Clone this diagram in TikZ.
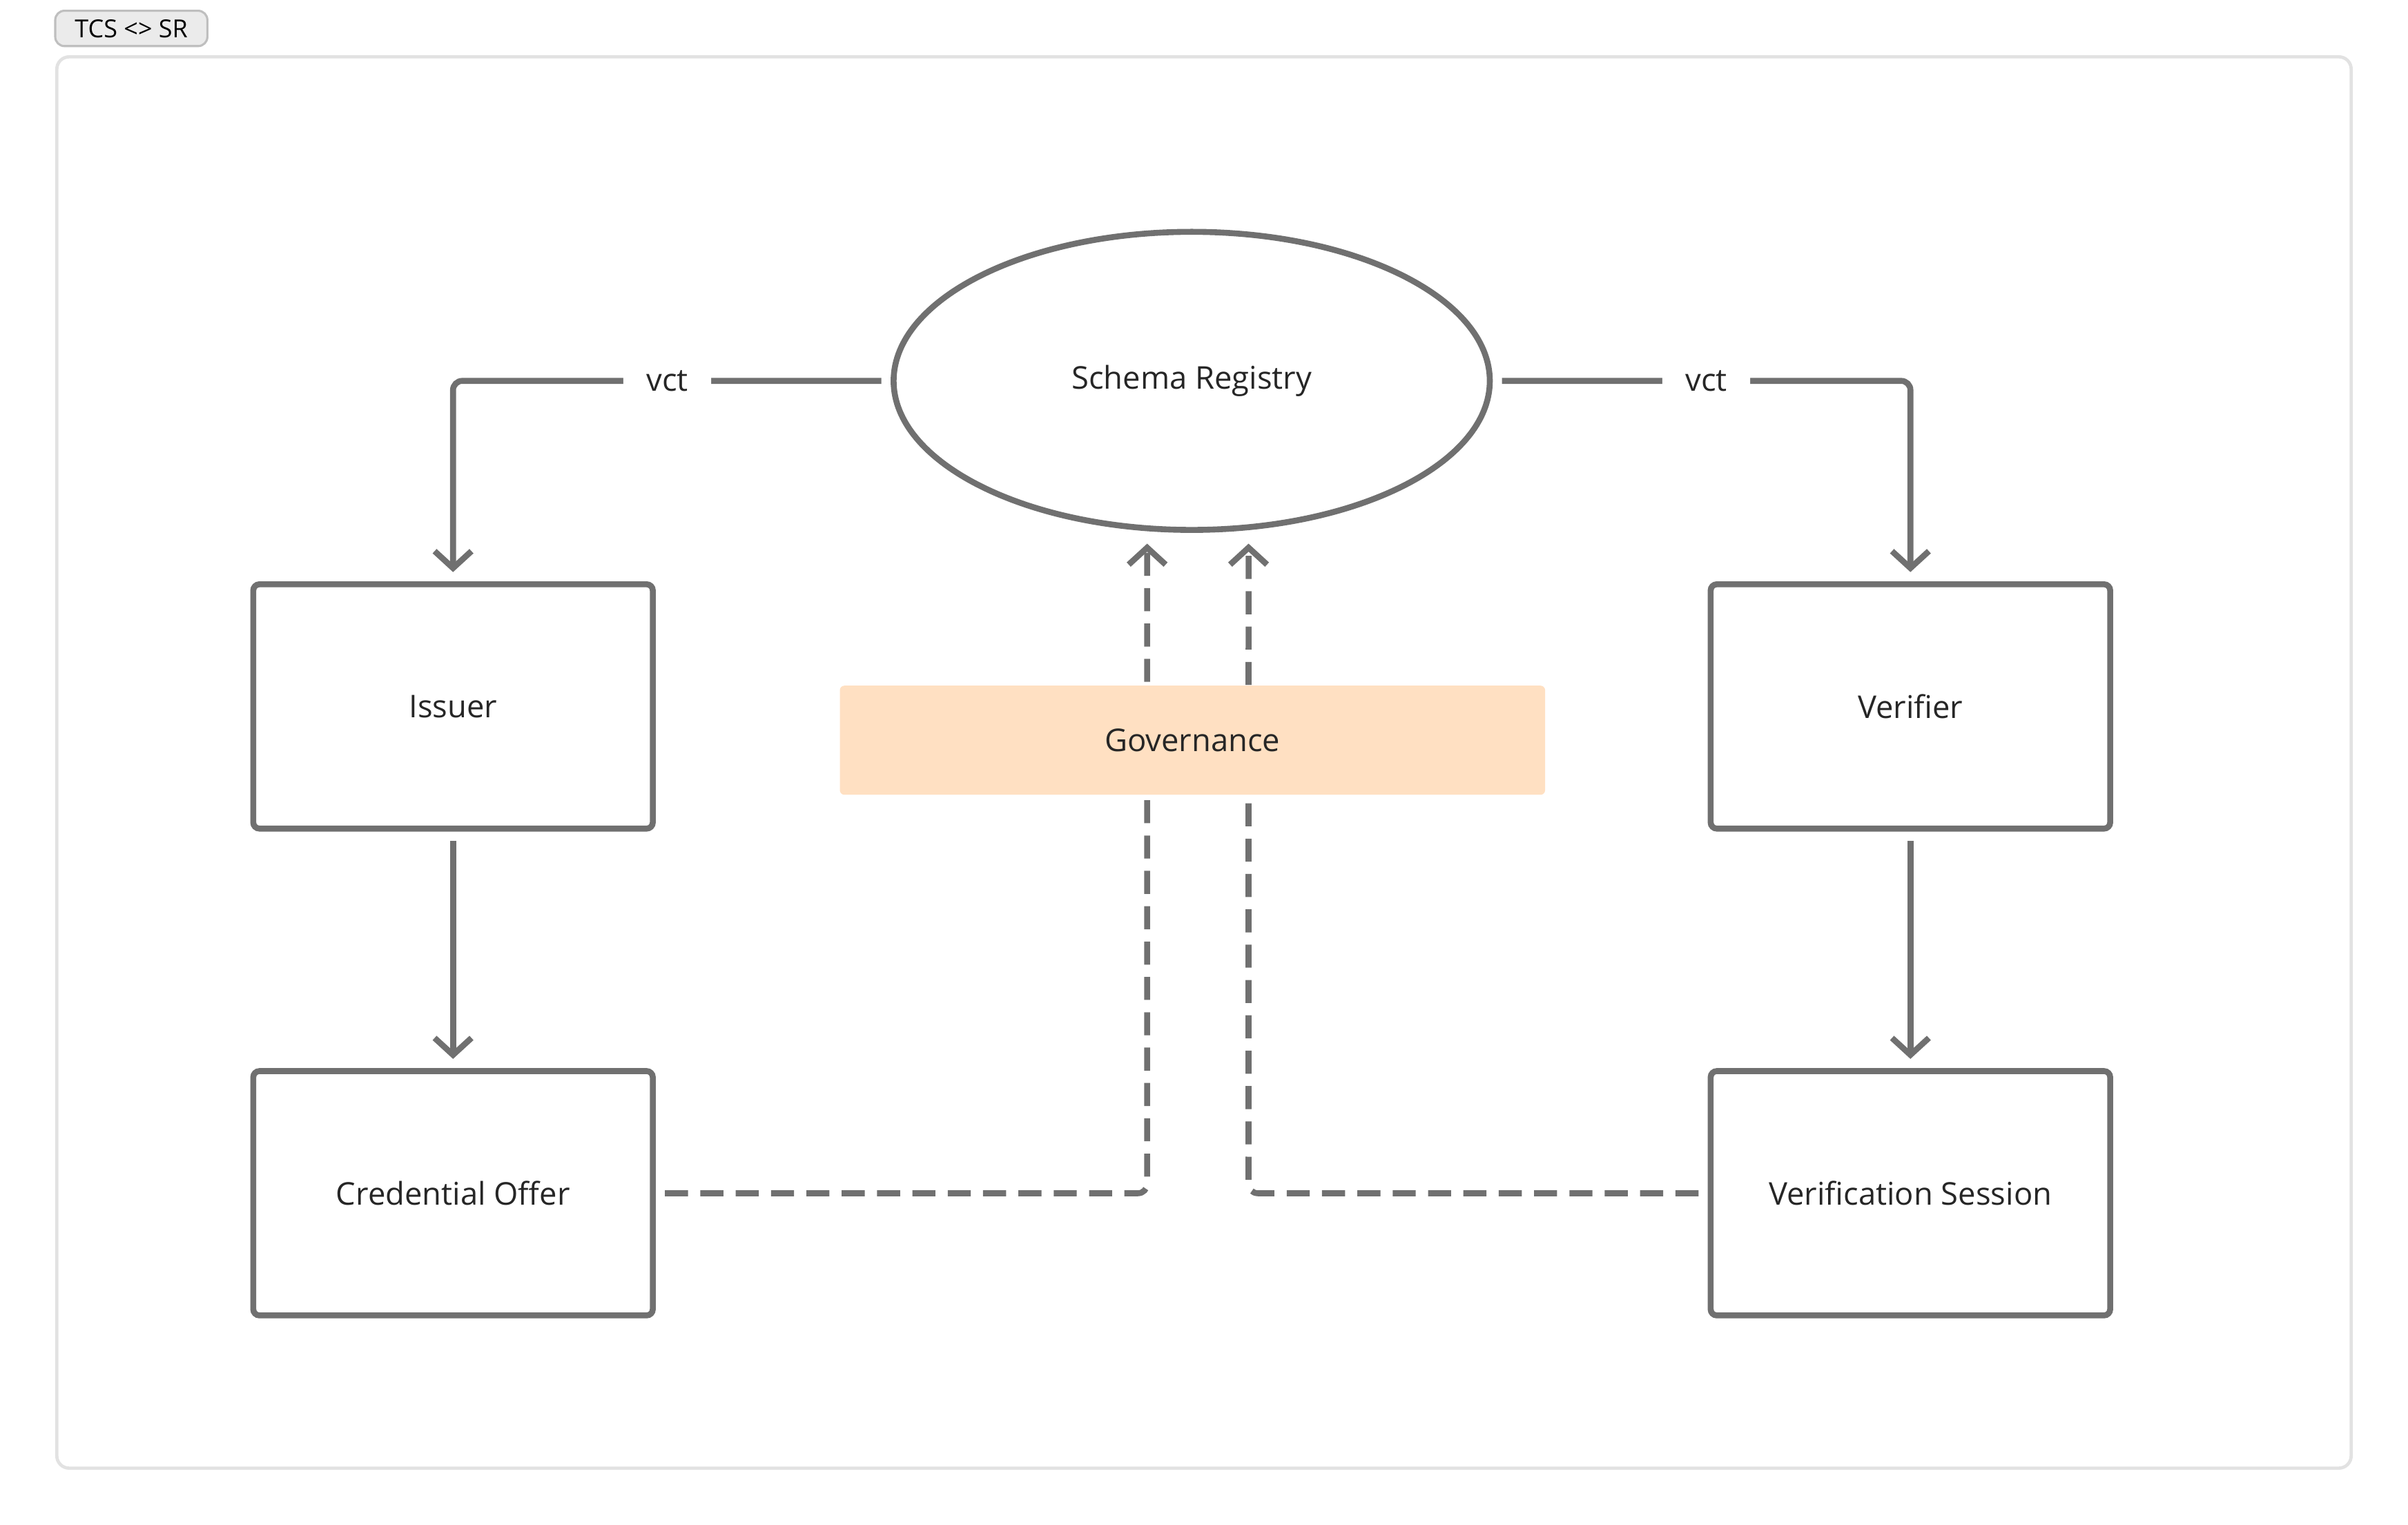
\documentclass[tikz,border=0pt]{standalone}
\usepackage{fontspec}
\setmainfont{Open Sans}
\usetikzlibrary{arrows.meta,positioning,shapes.geometric}
\definecolor{edgegray}{HTML}{707070}
\definecolor{framegray}{HTML}{E2E2E2}
\definecolor{peach}{HTML}{FFE0C2}
\tikzset{every picture/.style={font issue=\fontsize{5.8}{7}},
         font issue/.style={execute at begin picture={#1\selectfont}}
        }

\begin{document}
\begin{tikzpicture}[x=0.01cm,y=-0.01cm,
  >={Straight Barb[length=1.1mm,width=2.4mm]},
  box/.style={draw=edgegray, line width=1.1pt, rounded corners=0.4mm, minimum width=2.6cm, minimum height=1.59cm, text=black!85},
  link/.style={draw=edgegray, line width=1.1pt, rounded corners=0.6mm, ->},
  govlink/.style={link, dash pattern=on 1.5mm off 0.8mm},
  lbl/.style={fill=white, inner sep=1.5mm, text=black!85}]
\useasboundingbox (0,0) rectangle (1568,993);
%frame and tag
\draw[framegray, line width=0.6pt, rounded corners=0.8mm] (37,37) rectangle (1531,956);
\node[draw=black!25, fill=black!8, rounded corners=0.6mm, minimum width=0.99cm, minimum height=0.23cm, inner sep=0pt, font=\fontsize{4.6}{5}\selectfont] (tag) at (85.5,18.5) {TCS <> SR};

%nodes
\node[draw=edgegray, line width=1.1pt, ellipse, minimum width=3.88cm, minimum height=1.94cm, text=black!85] (sr) at (776,248) {Schema Registry};
\node[box] (issuer) at (295,460) {Issuer};
\node[box] (offer) at (295,777) {Credential Offer};
\node[box] (verifier) at (1244,460) {Verifier};
\node[box] (session) at (1244,777) {Verification Session};

%dashed links, behind governance
\draw[govlink] ([xshift=0.6mm]offer.east) -- (747,777) -- ([xshift=-0.29cm,yshift=-0.07cm]sr.south);
\draw[govlink] ([xshift=-0.6mm]session.west) -- (813,777) -- ([xshift=0.37cm,yshift=-0.07cm]sr.south);
\node[fill=peach, rounded corners=0.3mm, minimum width=4.59cm, minimum height=0.71cm, text=black!85] (gov) at (776.5,482) {Governance};

%solid links
\draw[link] ([xshift=-0.6mm]sr.west) -- node[lbl, pos=0.5] (vl) {vct} (295,248) -- ([yshift=0.6mm]issuer.north);
\draw[link] ([xshift=0.6mm]sr.east) -- node[lbl, pos=0.5] (vr) {vct} (1244,248) -- ([yshift=0.6mm]verifier.north);
\draw[link] ([yshift=-0.6mm]issuer.south) -- ([yshift=0.6mm]offer.north);
\draw[link] ([yshift=-0.6mm]verifier.south) -- ([yshift=0.6mm]session.north);
\end{tikzpicture}
\end{document}
